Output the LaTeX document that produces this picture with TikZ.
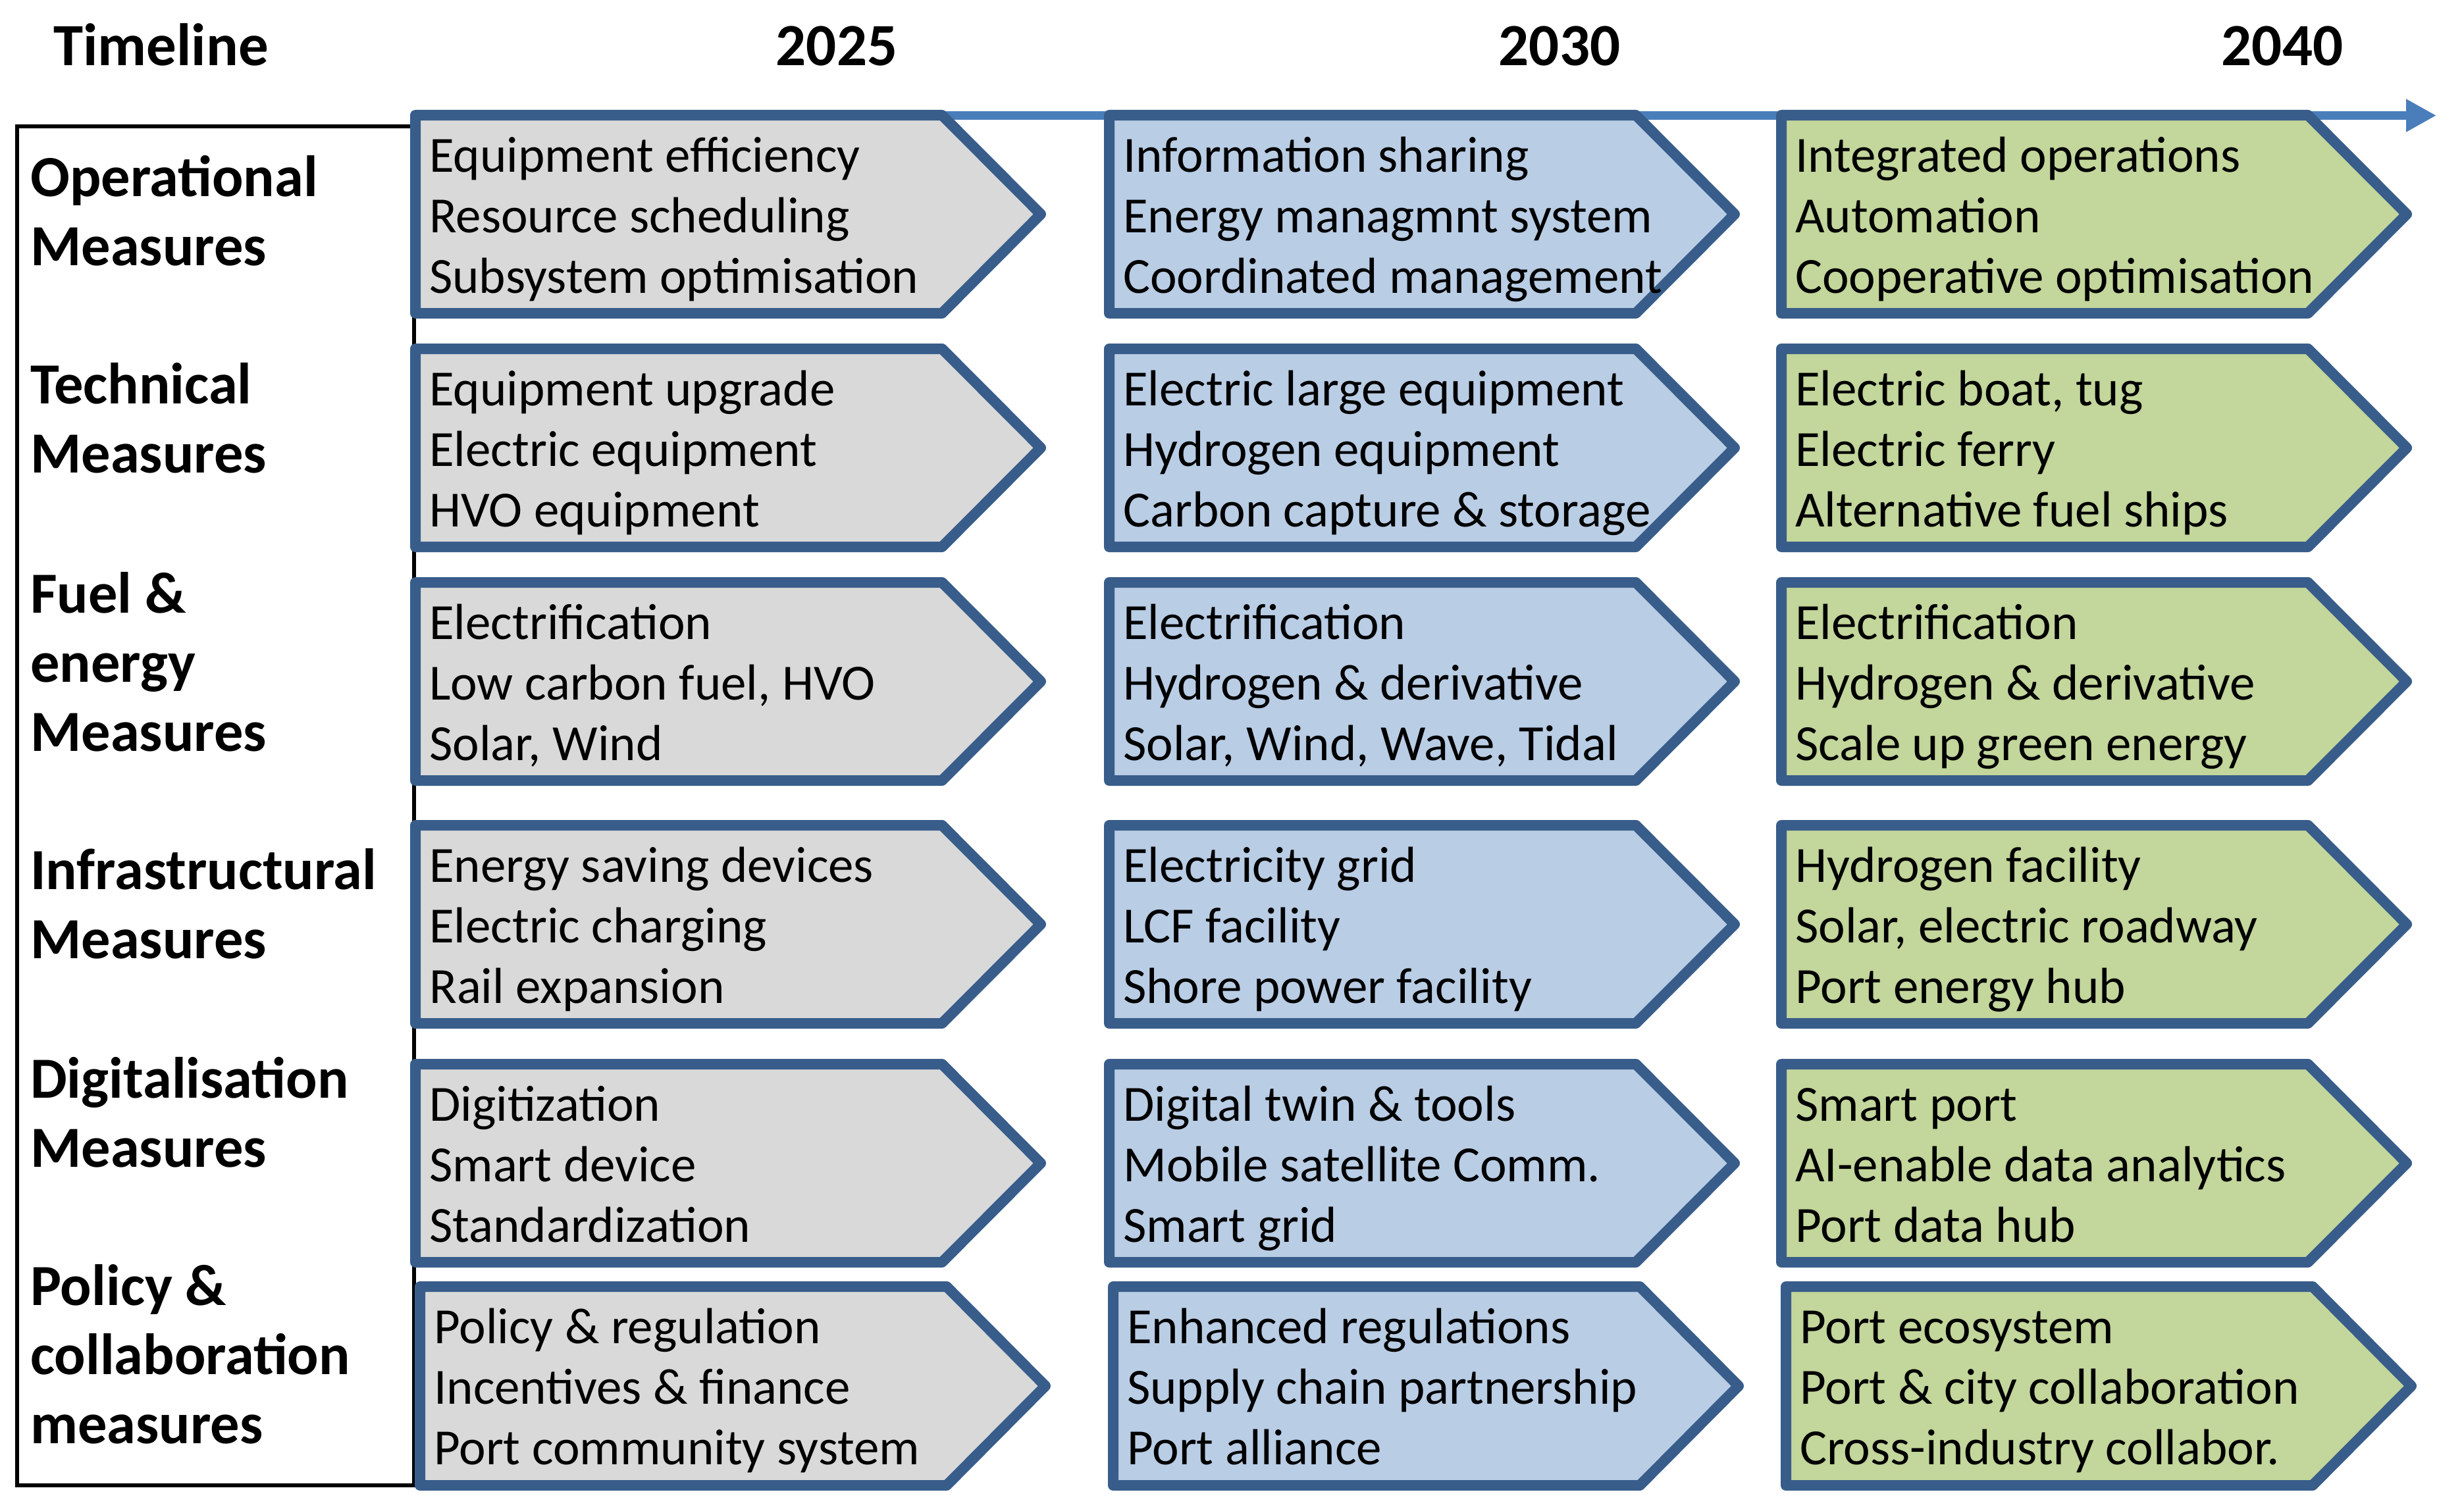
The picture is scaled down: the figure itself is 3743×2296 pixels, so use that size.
\documentclass[tikz,border=0pt]{standalone}
\usepackage{fontspec}
\setmainfont{Carlito}
\usetikzlibrary{arrows.meta}
\definecolor{bord}{HTML}{385D8A}
\definecolor{gfill}{HTML}{D9D9D9}
\definecolor{bfill}{HTML}{B9CDE5}
\definecolor{lfill}{HTML}{C3D69B}
\definecolor{tline}{HTML}{4A7EBB}
\tikzset{
  mbox/.style={draw=bord,line width=16pt,line join=round},
  btxt/.style={anchor=base west,inner sep=0pt,font=\fontsize{77}{92}\selectfont},
  htxt/.style={anchor=base west,inner sep=0pt,font=\fontsize{88.5}{105}\selectfont\bfseries},
  ytxt/.style={anchor=base,inner sep=0pt,font=\fontsize{91}{105}\selectfont\bfseries},
  lbox/.style={draw=black,line width=6pt},
  tl/.style={draw=tline,line width=13pt,-{Triangle[length=46pt,width=47pt]}}
}
\def\rh{150.5}
\newcommand\rmbox[7]{%
  \path[mbox,fill=#4] (#2,#3) -- ++(800,0) -- ++(150,\rh) -- ++(-150,\rh) -- ++(-800,0) -- cycle;
  \node[btxt] (#1l1) at ({#2+21},{#3+86}) {#5};
  \node[btxt] (#1l2) at ({#2+21},{#3+178}) {#6};
  \node[btxt] (#1l3) at ({#2+21},{#3+270}) {#7};
}
\begin{document}
\begin{tikzpicture}[x=1pt,y=-1pt]
\fill[white] (0,0) rectangle (3743,2296);
\useasboundingbox (0,0) rectangle (3743,2296);
% header
\node[ytxt,anchor=base west] (hdr) at (81,100) {Timeline};
\node[ytxt] (y25) at (1271,100) {2025};
\node[ytxt] (y30) at (2369,100) {2030};
\node[ytxt] (y40) at (3467,100) {2040};
% timeline arrow
\coordinate (tlstart) at (640,175.5);
\coordinate (tlend) at (3701,175.5);
\draw[tl] (tlstart) -- (tlend);
% left box
\draw[lbox] (26,192) rectangle (629,2257);
\node[htxt] (l1a) at (46,298) {Operational};
\node[htxt] (l1b) at (46,403) {Measures};
\node[htxt] (l2a) at (46,613) {Technical};
\node[htxt] (l2b) at (46,718) {Measures};
\node[htxt] (l3a) at (46,931) {Fuel \&};
\node[htxt] (l3b) at (46,1036) {energy};
\node[htxt] (l3c) at (46,1141) {Measures};
\node[htxt] (l4a) at (46,1351) {Infrastructural};
\node[htxt] (l4b) at (46,1456) {Measures};
\node[htxt] (l5a) at (46,1668) {Digitalisation};
\node[htxt] (l5b) at (46,1773) {Measures};
\node[htxt] (l6a) at (46,1983) {Policy \&};
\node[htxt] (l6b) at (46,2088) {collaboration};
\node[htxt] (l6c) at (46,2193) {measures};
% column 1
\rmbox{aa}{631}{175}{gfill}{Equipment efficiency}{Resource scheduling}{Subsystem optimisation}
\rmbox{ab}{631}{530}{gfill}{Equipment upgrade}{Electric equipment}{HVO equipment}
\rmbox{ac}{631}{885}{gfill}{Electrification}{Low carbon fuel, HVO}{Solar, Wind}
\rmbox{ad}{631}{1254}{gfill}{Energy saving devices}{Electric charging}{Rail expansion}
\rmbox{ae}{631}{1617}{gfill}{Digitization}{Smart device}{Standardization}
% column 2
\rmbox{ba}{1685}{175}{bfill}{Information sharing}{Energy managmnt system}{Coordinated management}
\rmbox{bb}{1685}{530}{bfill}{Electric large equipment}{Hydrogen equipment}{Carbon capture \& storage}
\rmbox{bc}{1685}{885}{bfill}{Electrification}{Hydrogen \& derivative}{Solar, Wind, Wave, Tidal}
\rmbox{bd}{1685}{1254}{bfill}{Electricity grid}{LCF facility}{Shore power facility}
\rmbox{be}{1685}{1617}{bfill}{Digital twin \& tools}{Mobile satellite Comm.}{Smart grid}
% column 3
\rmbox{ca}{2706}{175}{lfill}{Integrated operations}{Automation}{Cooperative optimisation}
\rmbox{cb}{2706}{530}{lfill}{Electric boat, tug}{Electric ferry}{Alternative fuel ships}
\rmbox{cc}{2706}{885}{lfill}{Electrification}{Hydrogen \& derivative}{Scale up green energy}
\rmbox{cd}{2706}{1254}{lfill}{Hydrogen facility}{Solar, electric roadway}{Port energy hub}
\rmbox{ce}{2706}{1617}{lfill}{Smart port}{AI-enable data analytics}{Port data hub}
% row 6
\def\rh{151}
\rmbox{af}{638}{1955}{gfill}{Policy \& regulation}{Incentives \& finance}{Port community system}
\rmbox{bf}{1691}{1955}{bfill}{Enhanced regulations}{Supply chain partnership}{Port alliance}
\rmbox{cf}{2713}{1955}{lfill}{Port ecosystem}{Port \& city collaboration}{Cross-industry collabor.}
\end{tikzpicture}
\end{document}
